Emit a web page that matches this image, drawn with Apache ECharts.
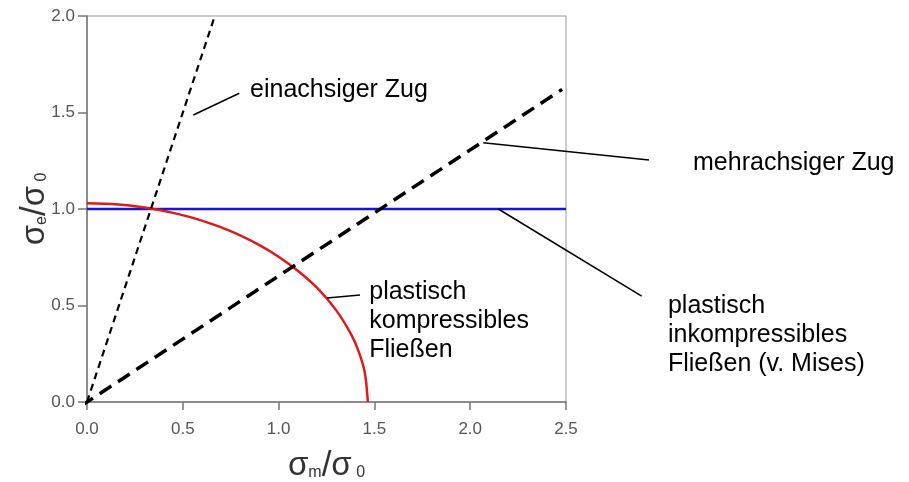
<!DOCTYPE html>
<html>
<head>
<meta charset="utf-8">
<script src="https://cdn.jsdelivr.net/npm/echarts@6/dist/echarts.min.js"></script>
<style>
html,body{margin:0;padding:0;background:#fff;}
#chart{width:909px;height:482px;}
</style>
</head>
<body>
<div id="chart"></div>
<script>
// ---- data ----
var xTicks = [0, 0.5, 1.0, 1.5, 2.0, 2.5];
var yTicks = [0, 0.5, 1.0, 1.5, 2.0];

// v. Mises (plastisch inkompressibel)
var misesX = [0, 2.5];
var misesY = [1.0, 1.0];

// plastisch kompressibel (red curve)
var compX = [0, 0.15, 0.3, 0.45, 0.6, 0.75, 0.9, 1.0, 1.1, 1.2, 1.3, 1.38, 1.42, 1.45, 1.466];
var compY = [1.03, 1.025, 1.008, 0.98, 0.94, 0.885, 0.813, 0.753, 0.68, 0.592, 0.476, 0.348, 0.256, 0.152, 0.0];

// einachsiger Zug (thin dashed)
var uniX = [0, 0.667];
var uniY = [0, 2.0];

// mehrachsiger Zug (thick dashed)
var multiX = [-0.03, 2.48];
var multiY = [-0.02, 1.62];

// annotations: [anchor on curve], [leader end], [text left / first-line centre], text lines
var annoAnchor = [[0.555, 1.487], [2.068, 1.343], [2.147, 1.0], [1.253, 0.539]];
var annoEnd    = [[0.795, 1.600], [2.933, 1.254], [2.895, 0.549], [1.425, 0.554]];
var annoText   = [[0.851, 1.617], [3.163, 1.238], [3.032, 0.497], [1.473, 0.571]];
var annoLines  = [
  ['einachsiger Zug'],
  ['mehrachsiger Zug'],
  ['plastisch', 'inkompressibles', 'Fließen (v. Mises)'],
  ['plastisch', 'kompressibles', 'Fließen']
];

function zip(a, b) { return a.map(function (v, i) { return [v, b[i]]; }); }

var chart = echarts.init(document.getElementById('chart'), null, {renderer: 'canvas'});
var labelFont = {fontFamily: 'Liberation Sans, Arial, sans-serif', fontSize: 17, color: '#555'};
var axisLineStyle = {color: '#777', width: 1.5};
var titleRich = {
  s: {fontFamily: 'Liberation Sans, Arial', fontSize: 33, color: '#333', verticalAlign: 'middle', lineHeight: 36},
  sub: {fontFamily: 'Liberation Sans, Arial', fontSize: 16, color: '#333', verticalAlign: 'bottom', lineHeight: 36, padding: [0, 0, 3, 0]},
  sl: {fontFamily: 'Liberation Sans, Arial', fontSize: 35, color: '#333', verticalAlign: 'middle', lineHeight: 36}
};

var option = {
  animation: false,
  backgroundColor: '#fff',
  grid: {left: 87, right: 343, top: 16, bottom: 80, containLabel: false, outerBoundsMode: 'none',
         show: true, borderColor: '#999', borderWidth: 1, backgroundColor: 'transparent'},
  xAxis: {
    type: 'value', min: xTicks[0], max: xTicks[xTicks.length - 1], interval: 0.5,
    axisLine: {show: true, onZero: false, lineStyle: axisLineStyle},
    axisTick: {show: true, inside: false, length: 8, lineStyle: axisLineStyle},
    splitLine: {show: false},
    axisLabel: Object.assign({margin: 19, formatter: function (v) { return v.toFixed(1); }}, labelFont),
    name: '{s|σ}{sub|m}{sl|/}{s|σ}{sub| 0}',
    nameLocation: 'middle', nameGap: 46, nameMoveOverlap: false,
    nameTextStyle: {rich: titleRich}
  },
  yAxis: {
    type: 'value', min: yTicks[0], max: yTicks[yTicks.length - 1], interval: 0.5,
    axisLine: {show: true, onZero: false, lineStyle: axisLineStyle},
    axisTick: {show: true, inside: false, length: 9, lineStyle: axisLineStyle},
    splitLine: {show: false},
    axisLabel: Object.assign({margin: 12, formatter: function (v) { return v.toFixed(1); }}, labelFont),
    name: '{s|σ}{sub|e}{sl|/}{s|σ}{sub| 0}',
    nameLocation: 'middle', nameGap: 34, nameRotate: 90, nameMoveOverlap: false,
    nameTextStyle: {rich: titleRich}
  },
  series: [
    {type: 'line', name: 'v. Mises', data: zip(misesX, misesY), showSymbol: false, symbol: 'none',
     lineStyle: {color: '#1414e6', width: 2.5}, z: 2},
    {type: 'line', name: 'kompressibel', data: zip(compX, compY), showSymbol: false, symbol: 'none', smooth: 0.3,
     lineStyle: {color: '#e01a1a', width: 2.5}, z: 3},
    {type: 'line', name: 'einachsig', data: zip(uniX, uniY), showSymbol: false, symbol: 'none',
     lineStyle: {color: '#000', width: 2.2, type: [7, 5]}, z: 4},
    {type: 'line', name: 'mehrachsig', data: zip(multiX, multiY), showSymbol: false, symbol: 'none', clip: false,
     lineStyle: {color: '#000', width: 3.5, type: [14, 8]}, z: 4}
  ]
};
chart.setOption(option);

var graphics = [];
var lh = 29;
for (var i = 0; i < annoAnchor.length; i++) {
  var a = chart.convertToPixel({gridIndex: 0}, annoAnchor[i]);
  var e = chart.convertToPixel({gridIndex: 0}, annoEnd[i]);
  var t = chart.convertToPixel({gridIndex: 0}, annoText[i]);
  graphics.push({type: 'line', shape: {x1: a[0], y1: a[1], x2: e[0], y2: e[1]}, style: {stroke: '#000', lineWidth: 1.5}, z: 10});
  graphics.push({type: 'text', x: t[0], y: t[1] - lh / 2, z: 10,
    style: {text: annoLines[i].join('\n'), fill: '#000', font: '25px "Liberation Sans", Arial, sans-serif',
      lineHeight: lh, textAlign: 'left', textVerticalAlign: 'top'}});
}
chart.setOption({graphic: graphics});
</script>
</body>
</html>
